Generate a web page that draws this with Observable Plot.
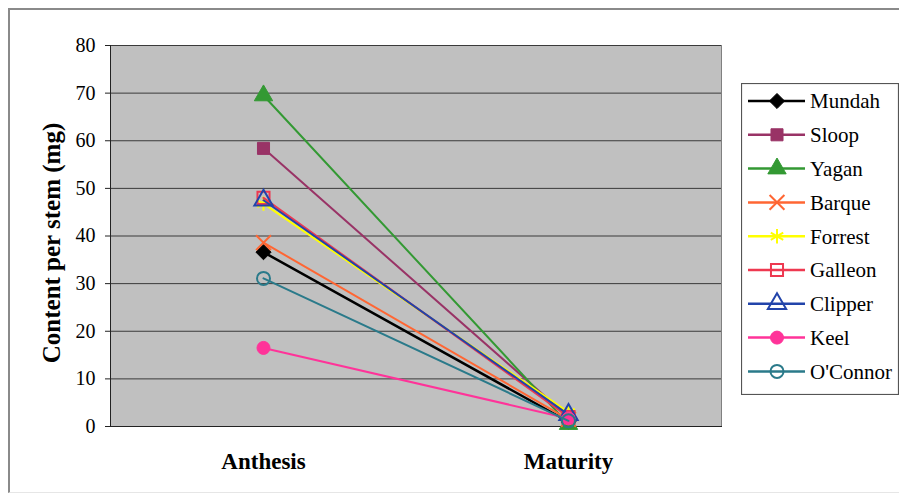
<!DOCTYPE html>
<html>
<head>
<meta charset="utf-8">
<script src="https://cdn.jsdelivr.net/npm/d3@7"></script>
<script src="https://cdn.jsdelivr.net/npm/@observablehq/plot@0.6"></script>
<style>
  html, body { margin: 0; padding: 0; background: #fff; }
  #chart { position: relative; width: 899px; height: 497px; overflow: hidden; }
  #chart svg, #chart text { font-family: "Liberation Serif", "Times New Roman", serif !important; }
  #outer { position: absolute; left: 8px; top: 8px; width: 900px; height: 485px;
           border-left: 2px solid #8a8a8a; border-top: 2px solid #8a8a8a;
           border-bottom: 1px solid #e6e6e6; box-sizing: border-box; }
  #plot { position: absolute; left: 0; top: 0; }
  #legend { position: absolute; left: 741px; top: 83px; }
</style>
</head>
<body>
<div id="chart">
  <div id="outer"></div>
  <div id="plot"></div>
  <svg id="legend" width="158" height="312"></svg>
</div>
<script>
// Sampling stages on the x axis
const categories = ["Anthesis", "Maturity"];

// Varieties, in series order
const varieties = ["Mundah", "Sloop", "Yagan", "Barque", "Forrest", "Galleon", "Clipper", "Keel", "O'Connor"];

// Content per stem (mg) at each stage
const anthesis = [36.6, 58.4, 69.5, 38.6, 46.8, 48.0, 47.5, 16.5, 31.1];
const maturity = [1.0, 2.0, 0.5, 1.5, 3.0, 2.0, 2.5, 1.7, 1.2];

// Y axis ticks
const yTicks = [0, 10, 20, 30, 40, 50, 60, 70, 80];

// Series styling: colour, marker symbol, filled or hollow marker
const colors  = ["#000000", "#993366", "#339933", "#ff6633", "#ffff00", "#ee3850", "#2244aa", "#ff3399", "#2a7a8a"];
const symbols = ["diamond2", "square", "triangle", "times", "asterisk", "square", "triangle", "circle", "circle"];
const filled  = [true, true, true, false, false, false, false, true, false];

const serif = "Liberation Serif";

const seriesMarks = varieties.flatMap((name, i) => {
  const rows = categories.map((c, j) => ({variety: name, stage: c, value: j === 0 ? anthesis[i] : maturity[i]}));
  const dotStyle = filled[i]
    ? {fill: colors[i], stroke: colors[i], strokeWidth: 1}
    : {fill: "none", stroke: colors[i], strokeWidth: 2};
  const r = symbols[i] === "circle" ? 6.5 : 6.8;
  return [
    Plot.line(rows, {x: "stage", y: "value", stroke: colors[i], strokeWidth: i === 0 ? 2.5 : 2}),
    Plot.dot(rows, {x: "stage", y: "value", symbol: () => symbols[i], r, ...dotStyle})
  ];
});

const chart = Plot.plot({
  width: 899,
  height: 497,
  marginLeft: 110,
  marginRight: 178,
  marginTop: 45,
  marginBottom: 71,
  style: {fontFamily: serif, background: "transparent", color: "#000"},
  x: {type: "point", domain: categories, padding: 0.5, label: null},
  y: {domain: [0, 80], label: null},
  symbol: {type: "identity"},
  marks: [
    Plot.frame({fill: "#c0c0c0", stroke: "#808080"}),
    Plot.gridY(yTicks.filter(v => v > 0), {stroke: "#3a3a3a", strokeOpacity: 1, strokeWidth: 1}),
    Plot.frame({anchor: "left", stroke: "#222"}),
    Plot.frame({anchor: "bottom", stroke: "#222"}),
    Plot.axisY(yTicks, {tickSize: 5, tickPadding: 10, fontSize: 20, fontFamily: serif, stroke: "#222"}),
    Plot.axisX({tickSize: 0, tickPadding: 26, fontSize: 23, fontFamily: serif, fontWeight: "bold"}),
    Plot.text(["Content per stem (mg)"], {
      frameAnchor: "left", textAnchor: "middle", dx: -59, dy: 7, rotate: -90,
      fontSize: 25, fontFamily: serif, fontWeight: "bold", fill: "#000"
    }),
    ...seriesMarks
  ]
});
document.getElementById("plot").appendChild(chart);

// Legend box with line + marker samples
const legend = d3.select("#legend");
legend.append("rect")
  .attr("x", 0.5).attr("y", 0.5).attr("width", 157).attr("height", 311)
  .attr("fill", "#fff").attr("stroke", "#555").attr("stroke-width", 1.2);

const symbolTypes = {
  diamond2: d3.symbolDiamond2, square: d3.symbolSquare, triangle: d3.symbolTriangle,
  times: d3.symbolTimes, asterisk: d3.symbolAsterisk, circle: d3.symbolCircle
};

varieties.forEach((name, i) => {
  const cy = 18 + i * 33.8;
  const g = legend.append("g").attr("transform", `translate(0,${cy})`);
  g.append("line").attr("x1", 7).attr("x2", 64).attr("y1", 0).attr("y2", 0)
    .attr("stroke", colors[i]).attr("stroke-width", 2.5);
  const r = symbols[i] === "circle" ? 6.5 : 6.8;
  g.append("path")
    .attr("transform", "translate(36,0)")
    .attr("d", d3.symbol(symbolTypes[symbols[i]], Math.PI * r * r)())
    .attr("fill", filled[i] ? colors[i] : "none")
    .attr("stroke", colors[i])
    .attr("stroke-width", filled[i] ? 1 : 2);
  g.append("text").attr("x", 69).attr("y", 0).attr("dy", "0.35em")
    .style("font-family", serif).attr("font-size", 21).attr("fill", "#000")
    .text(name);
});
</script>
</body>
</html>
